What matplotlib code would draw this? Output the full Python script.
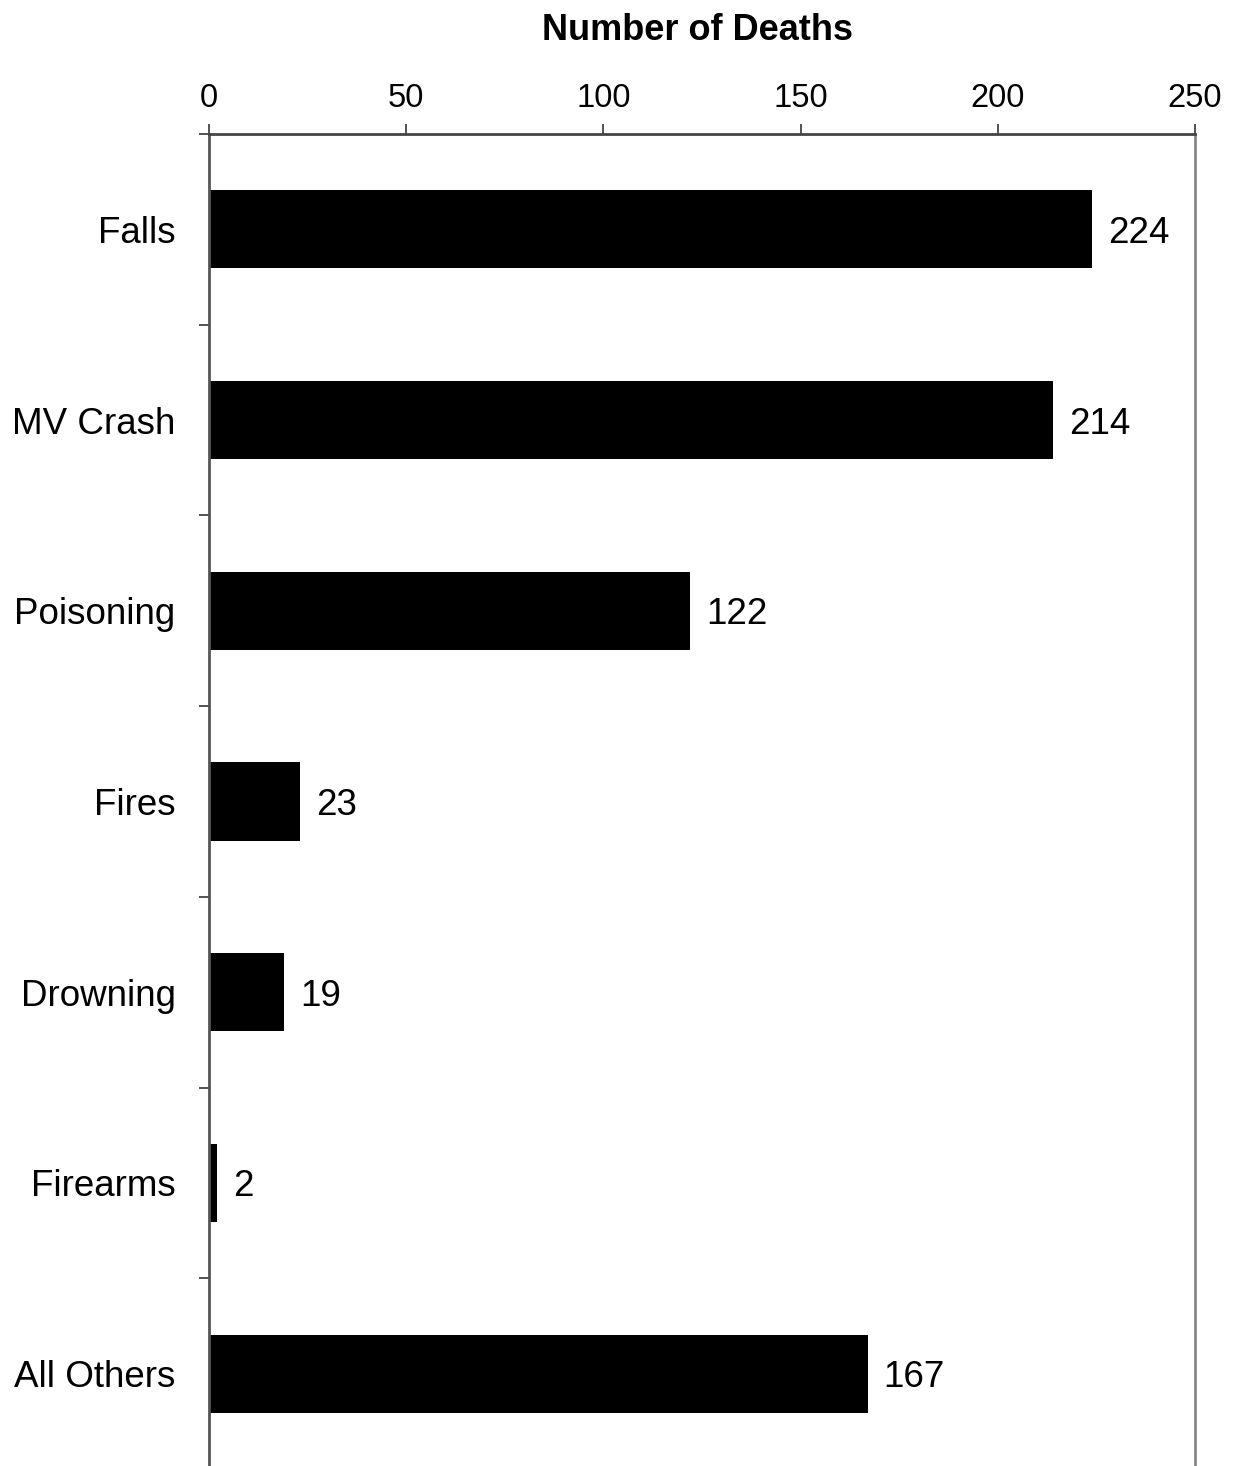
import numpy as np
import matplotlib
matplotlib.use("Agg")
import matplotlib.pyplot as plt

plt.rcParams['font.family'] = ['Liberation Sans', 'DejaVu Sans']

# Data
categories = ["Falls", "MV Crash", "Poisoning", "Fires", "Drowning", "Firearms", "All Others"]
deaths = [224, 214, 122, 23, 19, 2, 167]
x_ticks = [0, 50, 100, 150, 200, 250]

W, H = 1235, 1466
fig = plt.figure(figsize=(W / 100, H / 100), dpi=100)

# axes box in pixels: left 209, right 1195, top 134, bottom ~1469 (runs past the figure)
left, right, top, bottom = 209, 1195, 134, 1469
ax = fig.add_axes([left / W, (H - bottom) / H, (right - left) / W, (bottom - top) / H])

y = np.arange(len(categories))
ax.barh(y, deaths, height=0.41, color='black')

ax.set_xlim(0, 250)
ax.set_ylim(len(categories) - 0.5, -0.5)

# x axis on top
ax.xaxis.tick_top()
ax.set_xticks(x_ticks)
ax.set_xticklabels([str(t) for t in x_ticks], fontsize=23.5)
ax.tick_params(axis='x', which='major', direction='out', length=7, width=1.3,
               color='#444444', pad=7.5)

# y axis: labels at centres, ticks at category boundaries
ax.set_yticks(y)
ax.set_yticklabels(categories, fontsize=26.5)
ax.tick_params(axis='y', which='major', length=0, pad=24)
ax.set_yticks(np.arange(-0.5, len(categories) - 0.5, 1.0), minor=True)
ax.tick_params(axis='y', which='minor', direction='out', length=7, width=1.3, color='#444444')

ax.spines['top'].set_color('#444444')
ax.spines['top'].set_linewidth(2)
ax.spines['left'].set_color('#555555')
ax.spines['left'].set_linewidth(2)
ax.spines['right'].set_color('#888888')
ax.spines['right'].set_linewidth(2)
ax.spines['bottom'].set_visible(False)

# value labels
for yi, v in zip(y, deaths):
    ax.annotate(str(v), xy=(v, yi), xytext=(11.5, 0), textcoords='offset points',
                ha='left', va='center_baseline', fontsize=26.5)

fig.text((left + right) / 2 / W - 4 / W, 1 - 30 / H, "Number of Deaths", ha='center', va='center',
         fontsize=26, fontweight='bold')

fig.savefig("out.png", dpi=100)
